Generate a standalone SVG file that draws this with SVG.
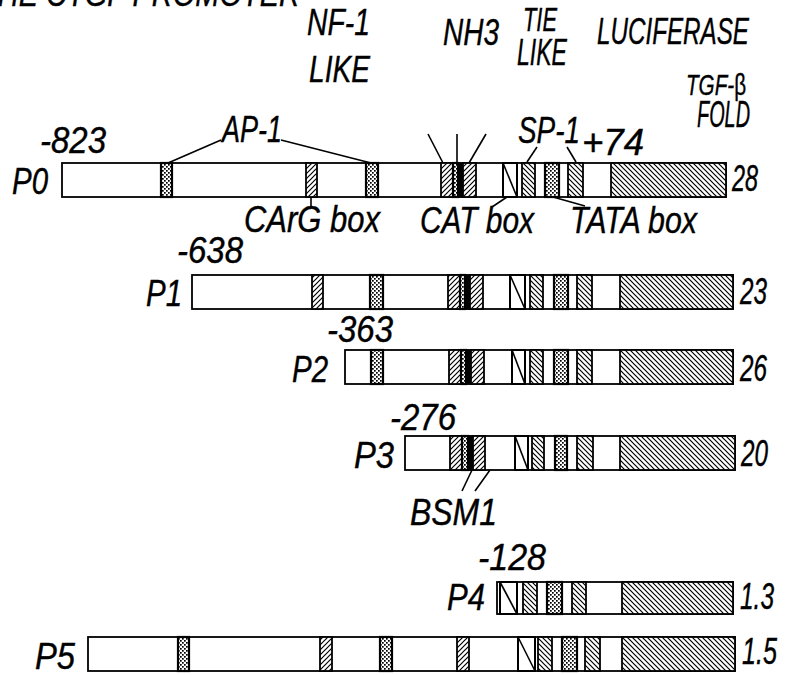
<svg xmlns="http://www.w3.org/2000/svg" width="807" height="675" viewBox="0 0 807 675">
<defs>
<pattern id="hb" width="5" height="5" patternUnits="userSpaceOnUse"><rect width="5" height="5" fill="#fff"/><path d="M0,0 L5,5 M-1,4 L1,6 M4,-1 L6,1" stroke="#000" stroke-width="1.2"/></pattern>
<pattern id="hf" width="5" height="5" patternUnits="userSpaceOnUse"><rect width="5" height="5" fill="#fff"/><path d="M0,5 L5,0 M-1,1 L1,-1 M4,6 L6,4" stroke="#000" stroke-width="1.2"/></pattern>
<pattern id="dt" width="4" height="4" patternUnits="userSpaceOnUse"><rect width="4" height="4" fill="#fff"/><rect x="0" y="0" width="1.7" height="1.7" fill="#000"/><rect x="2" y="2" width="1.7" height="1.7" fill="#000"/></pattern>
</defs>
<style>
.t{font-family:"Liberation Sans",Arial,sans-serif;font-style:italic;font-size:36px;fill:#000;stroke:#000;stroke-width:0.4}
.bar{fill:#fff;stroke:#000;stroke-width:1.8}
.hb{fill:url(#hb);stroke:#000;stroke-width:1.8}
.hf{fill:url(#hf);stroke:#000;stroke-width:1.8}
.dt{fill:url(#dt);stroke:#000;stroke-width:2.2}
.bk{fill:#000;stroke:#000;stroke-width:1}
.cat{fill:#fff;stroke:#000;stroke-width:2}
.ln{stroke:#000;stroke-width:1.6;fill:none}
</style>
<rect width="807" height="675" fill="#fff"/>

<g id="header">
<text class="t" x="-20" y="6" textLength="320" lengthAdjust="spacingAndGlyphs">THE CTGF PROMOTER</text>
<text class="t" x="307" y="35" textLength="63" lengthAdjust="spacingAndGlyphs">NF-1</text>
<text class="t" x="309" y="82" textLength="61" lengthAdjust="spacingAndGlyphs">LIKE</text>
<text class="t" x="443" y="45" textLength="56" lengthAdjust="spacingAndGlyphs">NH3</text>
<text class="t" x="523" y="31" style="font-size:33px" textLength="34" lengthAdjust="spacingAndGlyphs">TIE</text>
<text class="t" x="517" y="65" textLength="50" lengthAdjust="spacingAndGlyphs">LIKE</text>
<text class="t" x="597" y="44" textLength="152" lengthAdjust="spacingAndGlyphs">LUCIFERASE</text>
<text class="t" x="686" y="95" style="font-size:30px" textLength="60" lengthAdjust="spacingAndGlyphs">TGF-<tspan style="font-style:normal">β</tspan></text>
<text class="t" x="697" y="127" textLength="53" lengthAdjust="spacingAndGlyphs">FOLD</text>
</g>

<g id="P0">
<text class="t" x="40" y="153" textLength="66" lengthAdjust="spacingAndGlyphs">-823</text>
<text class="t" x="222" y="142" textLength="60" lengthAdjust="spacingAndGlyphs">AP-1</text>
<text class="t" x="518" y="143" textLength="62" lengthAdjust="spacingAndGlyphs">SP-1</text>
<text class="t" x="582" y="155" textLength="62" lengthAdjust="spacingAndGlyphs">+74</text>
<text class="t" x="12" y="194" textLength="36" lengthAdjust="spacingAndGlyphs">P0</text>
<rect class="bar" x="62" y="163" width="664" height="34"/>
<rect class="dt" x="161" y="163" width="11" height="34"/>
<rect class="hf" x="306" y="163" width="11" height="34"/>
<rect class="dt" x="366" y="163" width="12" height="34"/>
<rect class="hf" x="441" y="163" width="12" height="34"/>
<rect class="dt" x="453" y="163" width="5" height="34"/>
<rect class="bk" x="458" y="163" width="5" height="34"/>
<rect class="hf" x="463" y="163" width="13" height="34"/>
<rect class="cat" x="503" y="163" width="14" height="34"/><path class="ln" d="M503,163 L517,197"/>
<rect class="hb" x="522" y="163" width="13" height="34"/>
<rect class="dt" x="545" y="163" width="14" height="34"/>
<rect class="hb" x="568" y="163" width="15" height="34"/>
<rect class="hb" x="611" y="163" width="115" height="34"/>
<text class="t" x="732" y="191" textLength="26" lengthAdjust="spacingAndGlyphs">28</text>
<text class="t" x="244" y="232" textLength="136" lengthAdjust="spacingAndGlyphs">CArG box</text>
<text class="t" x="420" y="233" textLength="114" lengthAdjust="spacingAndGlyphs">CAT box</text>
<text class="t" x="570" y="233" textLength="127" lengthAdjust="spacingAndGlyphs">TATA box</text>
</g>

<g id="P1">
<text class="t" x="177" y="263" textLength="66" lengthAdjust="spacingAndGlyphs">-638</text>
<text class="t" x="146" y="306" textLength="36" lengthAdjust="spacingAndGlyphs">P1</text>
<rect class="bar" x="192" y="275" width="541" height="34"/>
<rect class="hf" x="312" y="275" width="11" height="34"/>
<rect class="dt" x="370" y="275" width="13" height="34"/>
<rect class="hf" x="448" y="275" width="12" height="34"/>
<rect class="dt" x="460" y="275" width="5" height="34"/>
<rect class="bk" x="465" y="275" width="5" height="34"/>
<rect class="hf" x="470" y="275" width="13" height="34"/>
<rect class="cat" x="510" y="275" width="15" height="34"/><path class="ln" d="M510,275 L525,309"/>
<rect class="hb" x="530" y="275" width="13" height="34"/>
<rect class="dt" x="554" y="275" width="14" height="34"/>
<rect class="hb" x="577" y="275" width="15" height="34"/>
<rect class="hb" x="620" y="275" width="113" height="34"/>
<text class="t" x="740" y="304" textLength="27" lengthAdjust="spacingAndGlyphs">23</text>
</g>

<g id="P2">
<text class="t" x="327" y="342" textLength="66" lengthAdjust="spacingAndGlyphs">-363</text>
<text class="t" x="292" y="382" textLength="36" lengthAdjust="spacingAndGlyphs">P2</text>
<rect class="bar" x="345" y="350" width="388" height="34"/>
<rect class="dt" x="371" y="350" width="12" height="34"/>
<rect class="hf" x="449" y="350" width="12" height="34"/>
<rect class="dt" x="461" y="350" width="5" height="34"/>
<rect class="bk" x="466" y="350" width="5" height="34"/>
<rect class="hf" x="471" y="350" width="13" height="34"/>
<rect class="cat" x="512" y="350" width="13" height="34"/><path class="ln" d="M512,350 L525,384"/>
<rect class="hb" x="530" y="350" width="13" height="34"/>
<rect class="dt" x="554" y="350" width="14" height="34"/>
<rect class="hb" x="577" y="350" width="15" height="34"/>
<rect class="hb" x="620" y="350" width="113" height="34"/>
<text class="t" x="740" y="381" textLength="27" lengthAdjust="spacingAndGlyphs">26</text>
</g>

<g id="P3">
<text class="t" x="390" y="430" textLength="66" lengthAdjust="spacingAndGlyphs">-276</text>
<text class="t" x="354" y="468" textLength="40" lengthAdjust="spacingAndGlyphs">P3</text>
<rect class="bar" x="405" y="436" width="330" height="34"/>
<rect class="hf" x="450" y="436" width="12" height="34"/>
<rect class="dt" x="462" y="436" width="6" height="34"/>
<rect class="bk" x="468" y="436" width="5" height="34"/>
<rect class="hf" x="473" y="436" width="12" height="34"/>
<rect class="cat" x="515" y="436" width="13" height="34"/><path class="ln" d="M515,436 L528,470"/>
<rect class="hb" x="532" y="436" width="12" height="34"/>
<rect class="dt" x="555" y="436" width="12" height="34"/>
<rect class="hb" x="577" y="436" width="16" height="34"/>
<rect class="hb" x="620" y="436" width="115" height="34"/>
<text class="t" x="741" y="466" textLength="27" lengthAdjust="spacingAndGlyphs">20</text>
<text class="t" x="410" y="525" textLength="87" lengthAdjust="spacingAndGlyphs">BSM1</text>
</g>

<g id="P4">
<text class="t" x="478" y="570" textLength="68" lengthAdjust="spacingAndGlyphs">-128</text>
<text class="t" x="447" y="610" textLength="38" lengthAdjust="spacingAndGlyphs">P4</text>
<rect class="bar" x="497" y="582" width="236" height="32"/>
<rect class="cat" x="500" y="582" width="17" height="32"/><path class="ln" d="M500,582 L517,614"/>
<rect class="hb" x="523" y="582" width="14" height="32"/>
<rect class="dt" x="547" y="582" width="15" height="32"/>
<rect class="hb" x="572" y="582" width="14" height="32"/>
<rect class="hb" x="622" y="582" width="111" height="32"/>
<text class="t" x="740" y="609" textLength="34" lengthAdjust="spacingAndGlyphs">1.3</text>
</g>

<g id="P5">
<text class="t" x="35" y="669" textLength="40" lengthAdjust="spacingAndGlyphs">P5</text>
<rect class="bar" x="88" y="637" width="647" height="34"/>
<rect class="dt" x="178" y="637" width="11" height="34"/>
<rect class="hf" x="320" y="637" width="12" height="34"/>
<rect class="dt" x="380" y="637" width="12" height="34"/>
<rect class="hf" x="457" y="637" width="12" height="34"/>
<rect class="cat" x="518" y="637" width="17" height="34"/><path class="ln" d="M518,637 L535,671"/>
<rect class="hb" x="538" y="637" width="14" height="34"/>
<rect class="dt" x="562" y="637" width="15" height="34"/>
<rect class="hb" x="585" y="637" width="15" height="34"/>
<rect class="hb" x="622" y="637" width="113" height="34"/>
<text class="t" x="742" y="664" textLength="35" lengthAdjust="spacingAndGlyphs">1.5</text>
</g>

<g id="connectors">
<path class="ln" d="M221,140 L168,163"/>
<path class="ln" d="M281,140 L371,163"/>
<path class="ln" d="M428,134 L443,163"/>
<path class="ln" d="M457,134 L457,163"/>
<path class="ln" d="M486,134 L469,163"/>
<path class="ln" d="M537,147 L527,162"/>
<path class="ln" d="M567,147 L576,162"/>
<path class="ln" d="M311,197 L311,207"/>
<path class="ln" d="M507,197 L492,207"/>
<path class="ln" d="M553,197 L585,206"/>
<path class="ln" d="M472,470 L462,491"/>
<path class="ln" d="M490,470 L475,491"/>
</g>
</svg>
